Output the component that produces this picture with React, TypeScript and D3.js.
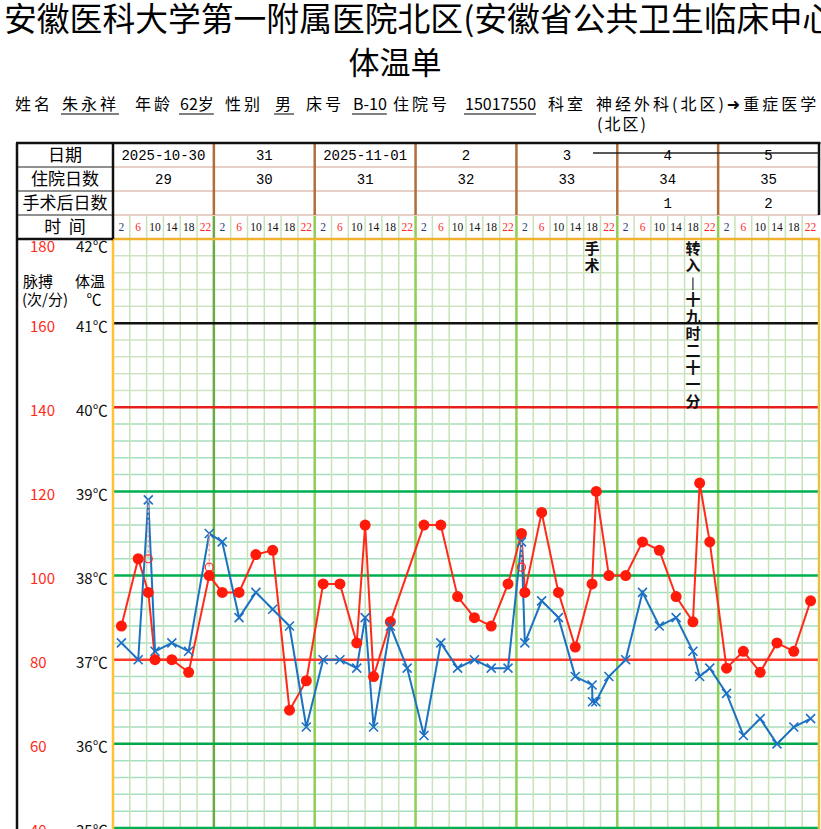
import React, { useEffect, useRef } from 'react';
import * as d3 from 'd3';

const W = 821;
const H = 829;

const dates = ['2025-10-30', '31', '2025-11-01', '2', '3', '4', '5'];
const hospitalDays = ['29', '30', '31', '32', '33', '34', '35'];
const postOpDays = ['', '', '', '', '', '1', '2'];
const timeSlots = [2, 6, 10, 14, 18, 22];
const tempTicks = [42, 41, 40, 39, 38, 37, 36, 35];
const pulseTicks = [180, 160, 140, 120, 100, 80, 60, 40];

// hours counted from 2025-10-30 00:00
const tempHours = [2, 6, 8.4, 10, 14, 18, 22.9, 26, 30, 34, 38, 42, 46, 50, 54, 58, 60, 62, 66, 70, 74, 78, 82, 86, 90, 94, 97.2, 98, 102, 106, 110, 114, 114.1, 114.9, 118, 122, 126, 130, 134, 138, 139.6, 142, 146, 150, 154, 158, 162, 166];
const tempValues = [37.2, 37.0, 38.9, 37.1, 37.2, 37.1, 38.5, 38.4, 37.5, 37.8, 37.6, 37.4, 36.2, 37.0, 37.0, 36.9, 37.5, 36.2, 37.4, 36.9, 36.1, 37.2, 36.9, 37.0, 36.9, 36.9, 38.4, 37.2, 37.7, 37.5, 36.8, 36.7, 36.5, 36.5, 36.8, 37.0, 37.8, 37.4, 37.5, 37.1, 36.8, 36.9, 36.6, 36.1, 36.3, 36.0, 36.2, 36.3];

const pulseHours = [2, 6, 8.4, 10, 14, 18, 22.9, 26, 30, 34, 38, 42, 46, 50, 54, 58, 60, 62, 66, 74, 78, 82, 86, 90, 94, 97.2, 98, 102, 106, 110, 114, 115, 118, 122, 126, 130, 134, 138, 139.6, 142, 146, 150, 154, 158, 162, 166];
const pulseValues = [88, 104, 96, 80, 80, 77, 100, 96, 96, 105, 106, 68, 75, 98, 98, 84, 112, 76, 89, 112, 112, 95, 90, 88, 98, 110, 96, 115, 96, 83, 98, 120, 100, 100, 108, 106, 95, 89, 122, 108, 78, 82, 77, 84, 82, 94];

// physical cooling re-measurements
const coolHours = [8.4, 22.9, 97.2];
const coolFrom = [38.9, 38.5, 38.4];
const coolValues = [38.2, 38.1, 38.1];

const notes = [
  { hour: 114, text: '手术' },
  { hour: 138, text: '转入|十九时二十一分' },
];

const CJK = '"Noto Sans CJK SC", "DejaVu Sans", sans-serif';
const MONO = '"Liberation Mono", "DejaVu Sans Mono", monospace';

const App: React.FC = () => {
  const svgRef = useRef<SVGSVGElement>(null);

  useEffect(() => {
    if (!svgRef.current) return;
    const svg = d3.select(svgRef.current);
    svg.selectAll('*').remove();

    const left = 113;
    const right = 819;
    const top = 239;
    const rows = [143, 167, 191, 215, 239];

    const x = d3.scaleLinear().domain([0, 168]).range([left, right]);
    const yT = d3.scaleLinear().domain([35, 42]).range([828, top]);
    const yP = d3.scaleLinear().domain([40, 180]).range([828, top]);

    svg.append('rect').attr('width', W).attr('height', H).attr('fill', '#fff');

    // Title
    svg.append('text')
      .attr('x', 4).attr('y', 31)
      .attr('font-family', CJK).attr('font-size', 32.8)
      .text('安徽医科大学第一附属医院北区(安徽省公共卫生临床中心');
    svg.append('text')
      .attr('x', 395).attr('y', 74).attr('text-anchor', 'middle')
      .attr('font-family', CJK).attr('font-size', 31)
      .text('体温单');

    // Patient info line
    const info = [
      { x: 15, t: '姓名', u: false },
      { x: 62, t: '朱永祥', u: true },
      { x: 135, t: '年龄', u: false },
      { x: 180, t: '62岁', u: true },
      { x: 225, t: '性别', u: false },
      { x: 275, t: '男', u: true },
      { x: 306, t: '床号', u: false },
      { x: 353, t: 'B-10', u: true },
      { x: 393, t: '住院号', u: false },
      { x: 465, t: '15017550', u: true },
      { x: 548, t: '科室', u: false },
      { x: 596, t: '神经外科(北区)➜重症医学', u: false },
    ];
    const infoG = svg.append('g').attr('font-family', CJK).attr('font-size', 16);
    info.forEach((d) => {
      const pureCjk = /^[\u4e00-\u9fa5]+$/.test(d.t);
      const t = infoG.append('text')
        .attr('x', d.x).attr('y', 110)
        .attr('letter-spacing', pureCjk || d.t.length > 8 ? 3 : 0)
        .text(d.t);
      if (d.u) {
        const w = (t.node() as SVGTextElement).getComputedTextLength();
        infoG.append('line')
          .attr('x1', d.x - 1).attr('x2', d.x + w)
          .attr('y1', 114).attr('y2', 114)
          .attr('stroke', '#000').attr('stroke-width', 1);
      }
    });
    infoG.append('text').attr('x', 597).attr('y', 130).attr('letter-spacing', 2).text('(北区)');

    // Grid: horizontal minor lines
    const g = svg.append('g');
    const minor = d3.range(35, 42.01, 0.2).map((v) => +v.toFixed(1));
    g.selectAll('.hminor')
      .data(minor.filter((v) => !Number.isInteger(v)))
      .join('line')
      .attr('x1', left).attr('x2', right)
      .attr('y1', (d) => yT(d)).attr('y2', (d) => yT(d))
      .attr('stroke', (d) => (d > 40 ? '#cfe3c4' : '#a6dfbd'))
      .attr('stroke-width', 1.5);

    // Vertical slot lines
    const slotLines = d3.range(1, 42).filter((i) => i % 6 !== 0);
    g.selectAll('.vslot')
      .data(slotLines)
      .join('line')
      .attr('x1', (i) => x(i * 4)).attr('x2', (i) => x(i * 4))
      .attr('y1', rows[3]).attr('y2', H)
      .attr('stroke', '#c9e3b8').attr('stroke-width', 1.5);

    // Day separators in grid and time row
    g.selectAll('.vday')
      .data(d3.range(1, 7))
      .join('line')
      .attr('x1', (i) => x(i * 24)).attr('x2', (i) => x(i * 24))
      .attr('y1', rows[3]).attr('y2', H)
      .attr('stroke', (i) => (i === 1 ? '#6aaa48' : '#8fcf55'))
      .attr('stroke-width', 2.5);

    // Major horizontal lines
    const majorColor: Record<number, string> = { 41: '#111', 40: '#e8201c', 39: '#00b050', 38: '#00b050', 37: '#ff3a2a', 36: '#00a84c', 35: '#00b050' };
    g.selectAll('.hmajor')
      .data([41, 40, 39, 38, 37, 36, 35])
      .join('line')
      .attr('x1', left).attr('x2', right)
      .attr('y1', (d) => yT(d)).attr('y2', (d) => yT(d))
      .attr('stroke', (d) => majorColor[d])
      .attr('stroke-width', 2.5);

    // Chart frame
    g.append('line').attr('x1', left).attr('x2', left).attr('y1', top).attr('y2', H)
      .attr('stroke', '#ffc233').attr('stroke-width', 2.5);
    g.append('line').attr('x1', right).attr('x2', right).attr('y1', top).attr('y2', H)
      .attr('stroke', '#e6c244').attr('stroke-width', 2.5);
    g.append('line').attr('x1', left).attr('x2', right + 1).attr('y1', top).attr('y2', top)
      .attr('stroke', '#efb230').attr('stroke-width', 2.5);

    // Header table
    const hdr = svg.append('g');
    [rows[1], rows[2], rows[3]].forEach((yy) => {
      hdr.append('line').attr('x1', left).attr('x2', right).attr('y1', yy).attr('y2', yy)
        .attr('stroke', '#e8cfc6').attr('stroke-width', 2);
      hdr.append('line').attr('x1', 17).attr('x2', left).attr('y1', yy).attr('y2', yy)
        .attr('stroke', '#222').attr('stroke-width', 1.2);
    });
    hdr.append('line').attr('x1', 17).attr('x2', left).attr('y1', top).attr('y2', top)
      .attr('stroke', '#111').attr('stroke-width', 2.5);
    hdr.selectAll('.hday')
      .data(d3.range(1, 7))
      .join('line')
      .attr('x1', (i) => x(i * 24)).attr('x2', (i) => x(i * 24))
      .attr('y1', rows[0]).attr('y2', rows[3])
      .attr('stroke', '#b06e3c').attr('stroke-width', 2.5);
    hdr.append('line').attr('x1', 17).attr('x2', 17).attr('y1', rows[0]).attr('y2', H)
      .attr('stroke', '#111').attr('stroke-width', 2.5);
    hdr.append('line').attr('x1', left).attr('x2', left).attr('y1', rows[0]).attr('y2', top)
      .attr('stroke', '#111').attr('stroke-width', 2.5);
    hdr.append('line').attr('x1', 16).attr('x2', right + 1.5).attr('y1', rows[0]).attr('y2', rows[0])
      .attr('stroke', '#111').attr('stroke-width', 2.5);
    hdr.append('line').attr('x1', right).attr('x2', right).attr('y1', rows[0]).attr('y2', rows[3])
      .attr('stroke', '#111').attr('stroke-width', 2.5);
    hdr.append('line').attr('x1', 593).attr('x2', right).attr('y1', 153).attr('y2', 153)
      .attr('stroke', '#222').attr('stroke-width', 1.5);

    const rowLabels = ['日期', '住院日数', '手术后日数', '时  间'];
    hdr.selectAll('.rowlab')
      .data(rowLabels)
      .join('text')
      .attr('x', 65).attr('y', (_, i) => (rows[i] + rows[i + 1]) / 2)
      .attr('dy', '0.36em').attr('text-anchor', 'middle')
      .attr('font-family', CJK).attr('font-size', 17)
      .style('white-space', 'pre')
      .text((d) => d);

    [dates, hospitalDays, postOpDays].forEach((arr, r) => {
      hdr.selectAll(`.row${r}`)
        .data(arr)
        .join('text')
        .attr('x', (_, i) => x(i * 24 + 12)).attr('y', (rows[r] + rows[r + 1]) / 2)
        .attr('dy', '0.36em').attr('text-anchor', 'middle')
        .attr('font-family', MONO).attr('font-size', 14)
        .text((d) => d);
    });

    const slotColor = ['#1f3a78', '#ff2a2a', '#111', '#111', '#111', '#ff2a2a'];
    const slotData = d3.range(42).map((i) => ({ i, label: timeSlots[i % 6], c: slotColor[i % 6] }));
    hdr.selectAll('.slotlab')
      .data(slotData)
      .join('text')
      .attr('x', (d) => x(d.i * 4 + 2)).attr('y', (rows[3] + rows[4]) / 2)
      .attr('dy', '0.36em').attr('text-anchor', 'middle')
      .attr('font-family', '"Liberation Serif", serif').attr('font-size', 11.5)
      .attr('fill', (d) => d.c)
      .text((d) => d.label);

    // Axis labels on the left
    const axisG = svg.append('g').attr('font-family', CJK).attr('font-size', 15);
    axisG.selectAll('.plab')
      .data(pulseTicks)
      .join('text')
      .attr('x', 30).attr('y', (d, i) => yP(d) + (i === 0 ? 8 : 3))
      .attr('dy', '0.36em').attr('fill', '#ff2a1a')
      .text((d) => d);
    axisG.selectAll('.tlab')
      .data(tempTicks)
      .join('text')
      .attr('x', 76).attr('y', (d, i) => yT(d) + (i === 0 ? 8 : 3))
      .attr('dy', '0.36em').attr('fill', '#111')
      .text((d) => `${d}℃`);
    axisG.append('text').attr('x', 38).attr('y', 282).attr('dy', '0.36em').attr('text-anchor', 'middle').text('脉搏');
    axisG.append('text').attr('x', 45).attr('y', 300).attr('dy', '0.36em').attr('text-anchor', 'middle').text('(次/分)');
    axisG.append('text').attr('x', 90).attr('y', 282).attr('dy', '0.36em').attr('text-anchor', 'middle').text('体温');
    axisG.append('text').attr('x', 94).attr('y', 300).attr('dy', '0.36em').attr('text-anchor', 'middle').text('℃');

    // Vertical notes
    notes.forEach((n) => {
      const chars = Array.from(n.text);
      svg.append('g')
        .selectAll('text')
        .data(chars)
        .join('text')
        .attr('x', x(n.hour)).attr('y', (_, i) => 249 + i * 16.9)
        .attr('dy', '0.36em').attr('text-anchor', 'middle')
        .attr('font-family', CJK)
        .attr('font-size', (d) => (d === '|' ? 11 : 15))
        .attr('font-weight', 'bold')
        .attr('fill', '#111')
        .text((d) => d);
    });

    // Cooling markers
    const coolG = svg.append('g');
    coolHours.forEach((h, i) => {
      coolG.append('line')
        .attr('x1', x(h)).attr('x2', x(h))
        .attr('y1', yT(coolFrom[i])).attr('y2', yT(coolValues[i]))
        .attr('stroke', '#f4a4a4').attr('stroke-width', 1.5).attr('stroke-dasharray', '3,2');
    });

    const pulse = pulseHours.map((h, i) => ({ h, v: pulseValues[i] }));
    const temp = tempHours.map((h, i) => ({ h, v: tempValues[i] }));

    svg.append('path')
      .datum(pulse)
      .attr('d', d3.line<{ h: number; v: number }>().x((d) => x(d.h)).y((d) => yP(d.v)))
      .attr('fill', 'none').attr('stroke', '#ff2a1a').attr('stroke-width', 2);

    svg.append('path')
      .datum(temp)
      .attr('d', d3.line<{ h: number; v: number }>().x((d) => x(d.h)).y((d) => yT(d.v)))
      .attr('fill', 'none').attr('stroke', '#1c72c0').attr('stroke-width', 2);

    svg.append('g')
      .selectAll('circle')
      .data(pulse)
      .join('circle')
      .attr('cx', (d) => x(d.h)).attr('cy', (d) => yP(d.v))
      .attr('r', 5.5).attr('fill', '#ff1a0a');

    svg.append('g')
      .selectAll('path')
      .data(temp)
      .join('path')
      .attr('transform', (d) => `translate(${x(d.h)},${yT(d.v)})`)
      .attr('d', 'M-4.5,-4.5L4.5,4.5M4.5,-4.5L-4.5,4.5')
      .attr('stroke', '#1c6fc4').attr('stroke-width', 1.6).attr('fill', 'none');

    coolHours.forEach((h, i) => {
      coolG.append('circle')
        .attr('cx', x(h)).attr('cy', yT(coolValues[i]))
        .attr('r', 4).attr('fill', 'none').attr('stroke', '#ff2a1a').attr('stroke-width', 1.2);
    });
    coolG.raise();
  }, []);

  return (
    <svg
      ref={svgRef}
      width={W}
      height={H}
      style={{ position: 'absolute', left: 0, top: 0 }}
    />
  );
};

export default App;
